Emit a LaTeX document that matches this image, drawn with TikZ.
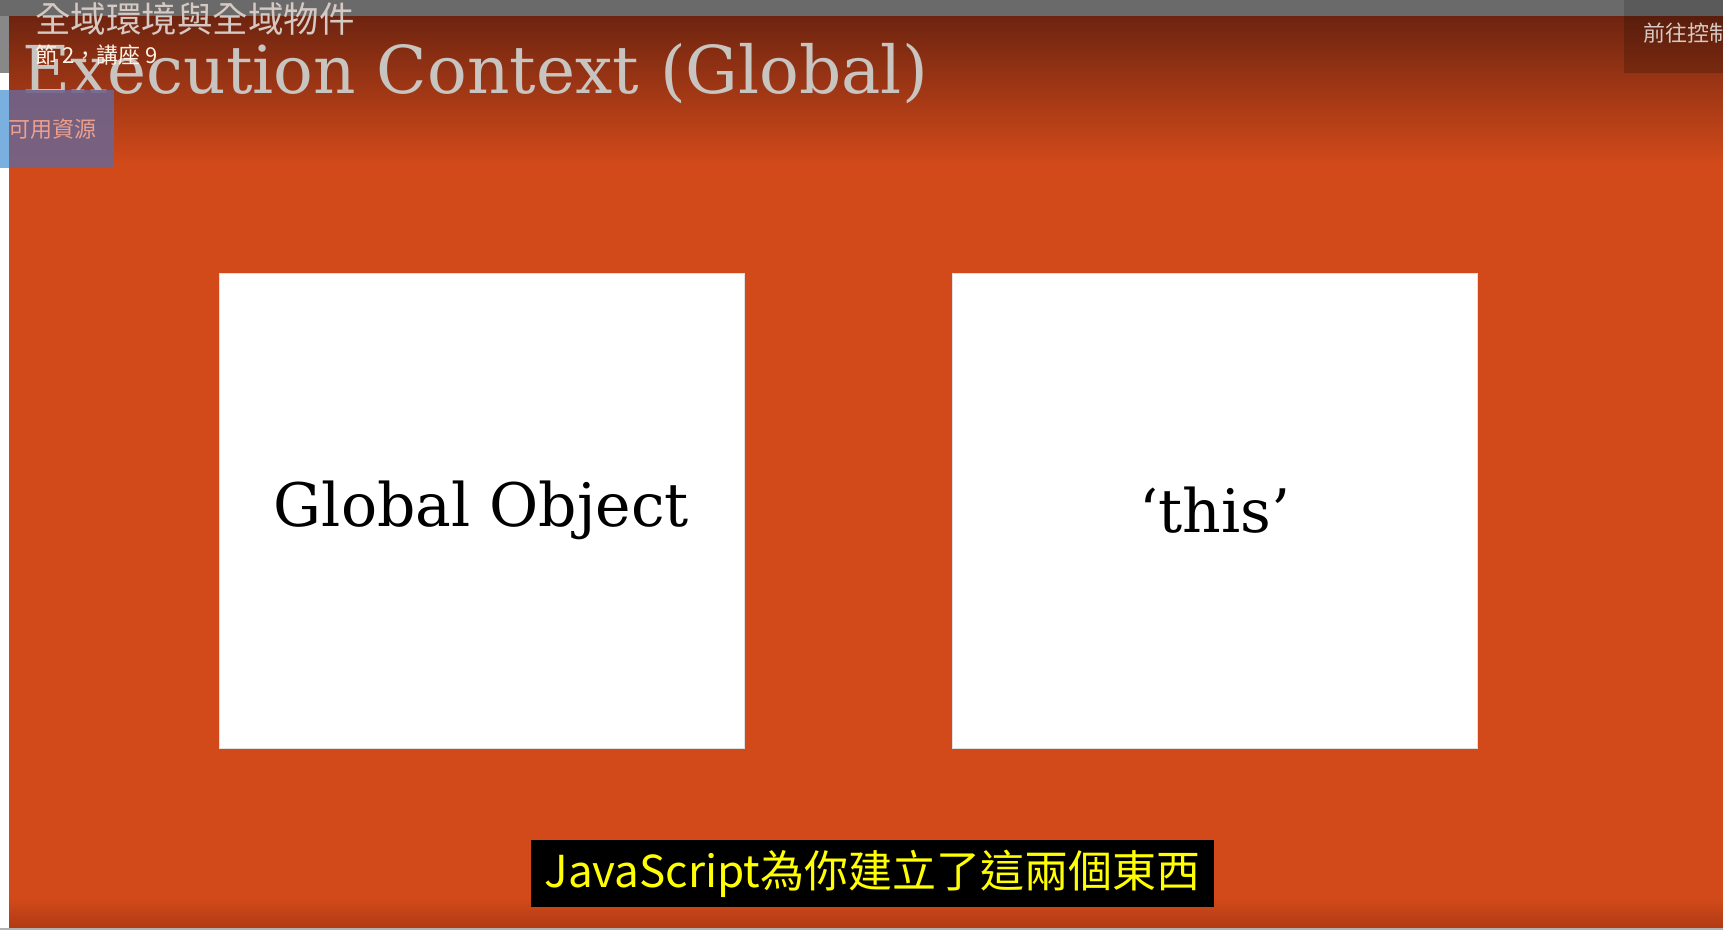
\documentclass[tikz,border=0pt]{standalone}
\usepackage{fontspec}
\setmainfont{DejaVu Serif}
\newfontfamily\cjk{Noto Sans CJK TC}
\usetikzlibrary{positioning}

\definecolor{slideorange}{RGB}{210,74,26}
\definecolor{slidedark}{RGB}{110,36,16}
\definecolor{slidelow}{RGB}{176,58,20}
\definecolor{bargray}{RGB}{106,106,106}
\definecolor{titlegray}{RGB}{200,196,192}
\definecolor{overlaytext}{RGB}{214,200,194}
\definecolor{resbox}{RGB}{112,100,140}
\definecolor{resedge}{RGB}{122,176,224}
\definecolor{restext}{RGB}{236,160,140}
\definecolor{subyellow}{RGB}{255,255,0}

\tikzstyle{panel} = [rectangle,draw=black!12,fill=white,minimum width=525pt,minimum height=475pt,inner sep=0pt,font=\fontsize{60}{60}\selectfont]
\tikzstyle{overlay} = [anchor=west,inner sep=0pt,text=overlaytext]

\begin{document}
\begin{tikzpicture}[x=1pt,y=-1pt]
	\useasboundingbox (0,0) rectangle (1723,930);
	% slide background
	\fill[white] (0,0) rectangle (1723,930);
	\fill[slideorange] (9,16) rectangle (1723,928);
	\shade[top color=slidedark,bottom color=slideorange] (9,16) rectangle (1723,165);
	\shade[top color=slideorange,bottom color=slidelow] (9,898) rectangle (1723,928);
	\fill[bargray] (0,0) rectangle (1723,16);
	\fill[bargray!85!black] (1624,0) rectangle (1723,16);
	\fill[bargray!80!white] (0,16) rectangle (9,73);
	\fill[black!30] (0,928) rectangle (1723,930);
	% title
	\node[anchor=base west,inner sep=0pt,text=titlegray,font=\fontsize{66}{66}\selectfont] (title) at (22,93) {Execution Context (Global)};
	% the two boxes
	\node[panel] (globalobj) at (481.5,510.5) {Global Object};
	\node[panel] (thisobj) at (1215,510.5) {‘this’};
	% subtitle
	\node[fill=black,text=subyellow,inner sep=0pt,minimum width=683pt,minimum height=67pt,font=\cjk\fontsize{44}{44}\selectfont] (subtitle) at (872.5,873.5) {JavaScript為你建立了這兩個東西};
	% player overlays
	\node[overlay,font=\cjk\fontsize{35.5}{35.5}\selectfont] (lecture) at (35,19) {全域環境與全域物件};
	\node[overlay,text=white!90!orange,font=\cjk\fontsize{22}{22}\selectfont] (section) at (35,55) {節 2，講座 9};
	\fill[resbox,opacity=0.9] (0,90) rectangle (114,168);
	\fill[resedge] (0,90) rectangle (9,168);
	\node[overlay,text=restext,font=\cjk\fontsize{22}{22}\selectfont] (resources) at (8,129) {可用資源};
	\fill[black,opacity=0.18] (1624,16) rectangle (1723,73);
	\node[overlay,font=\cjk\fontsize{22}{22}\selectfont] (goto) at (1643,33) {前往控制};
\end{tikzpicture}
\end{document}
